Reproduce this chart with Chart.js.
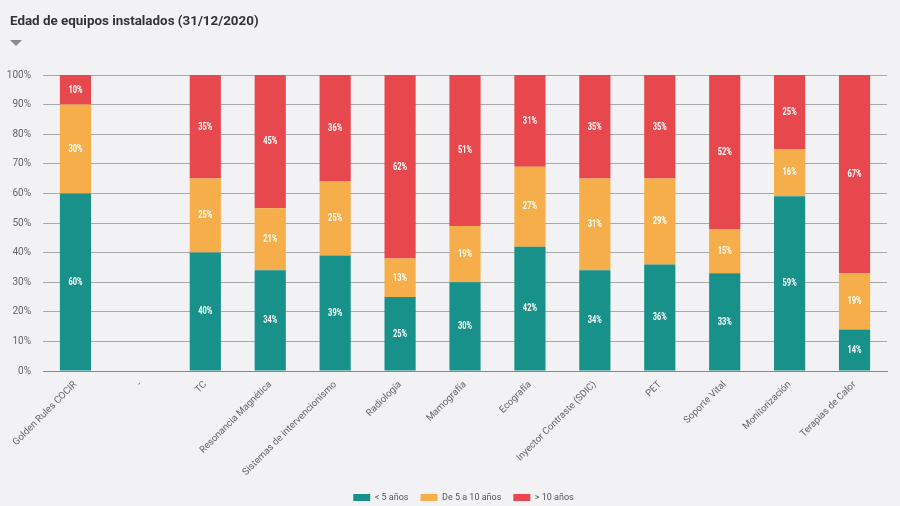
<!DOCTYPE html>
<html>
<head>
<meta charset="utf-8">
<script src="https://cdn.jsdelivr.net/npm/chart.js@4/dist/chart.umd.min.js"></script>
<style>
  html, body { margin: 0; padding: 0; background: #f2f2f4; }
  #wrap { position: relative; width: 900px; height: 506px; }
  #title { position: absolute; left: 10px; top: 13px; font: bold 13.4px Roboto, "Noto Sans", sans-serif; color: #333; }
  #arrow { position: absolute; left: 10px; top: 40px; width: 0; height: 0;
           border-left: 6px solid transparent; border-right: 6px solid transparent; border-top: 6px solid #8a8a8a; }
  canvas { position: absolute; left: 0; top: 0; }
</style>
</head>
<body>
<div id="wrap">
  <canvas id="ageChart" width="900" height="506"></canvas>
  <div id="title">Edad de equipos instalados (31/12/2020)</div>
  <div id="arrow"></div>
</div>
<script>
const categories = ['Golden Rules COCIR', '-', 'TC', 'Resonancia Magnética', 'Sistemas de intervencionismo',
  'Radiología', 'Mamografía', 'Ecografía', 'Inyector Contraste (SDIC)', 'PET', 'Soporte Vital',
  'Monitorización', 'Terapias de Calor'];
const menos5 = [60, null, 40, 34, 39, 25, 30, 42, 34, 36, 33, 59, 14];
const de5a10 = [30, null, 25, 21, 25, 13, 19, 27, 31, 29, 15, 16, 19];
const mas10 = [10, null, 35, 45, 36, 62, 51, 31, 35, 35, 52, 25, 67];
const yTicks = [0, 10, 20, 30, 40, 50, 60, 70, 80, 90, 100];

const fam = "Roboto, 'Noto Sans', sans-serif";

// etiquetas blancas dentro de cada tramo (estrechadas para imitar Roboto Condensed)
const segmentLabels = {
  id: 'segmentLabels',
  afterDatasetsDraw(chart) {
    const ctx = chart.ctx;
    chart.data.datasets.forEach((ds, i) => {
      const meta = chart.getDatasetMeta(i);
      meta.data.forEach((bar, j) => {
        const v = ds.data[j];
        if (v == null || v === 0) return;
        ctx.save();
        ctx.translate(bar.x, (bar.y + bar.base) / 2);
        ctx.scale(0.68, 1);
        ctx.fillStyle = '#ffffff';
        ctx.font = 'bold 11px ' + fam;
        ctx.textAlign = 'center';
        ctx.textBaseline = 'middle';
        ctx.fillText(v + '%', 0, 0);
        ctx.restore();
      });
    });
  }
};

// la leyenda del original está algo desplazada a la derecha
const legendShift = {
  id: 'legendShift',
  afterLayout(chart) {
    chart.legend.left += 20;
    chart.legend.right += 20;
  }
};

new Chart(document.getElementById('ageChart').getContext('2d'), {
  type: 'bar',
  data: {
    labels: categories,
    datasets: [
      { label: '< 5 años', data: menos5, backgroundColor: '#17918a' },
      { label: 'De 5 a 10 años', data: de5a10, backgroundColor: '#f5ae49' },
      { label: '> 10 años', data: mas10, backgroundColor: '#e7484d' }
    ]
  },
  options: {
    responsive: false,
    animation: false,
    categoryPercentage: 1,
    barPercentage: 0.48,
    layout: { padding: { top: 75, left: 0, right: 13, bottom: -6 } },
    plugins: {
      legend: {
        position: 'bottom',
        labels: { boxWidth: 17, boxHeight: 7, color: '#555', padding: 12, font: { size: 9, family: fam } }
      },
      tooltip: { enabled: false }
    },
    scales: {
      x: {
        stacked: true,
        grid: { display: false },
        border: { color: '#888' },
        ticks: { color: '#666', minRotation: 45, maxRotation: 45, padding: 0, font: { size: 9.6, family: fam } },
        afterFit: (axis) => { axis.height = 110; }
      },
      y: {
        stacked: true,
        min: 0, max: 100,
        afterBuildTicks: (axis) => { axis.ticks = yTicks.map(v => ({ value: v })); },
        afterFit: (axis) => { axis.width = 43; },
        grid: { color: '#a8a8a8', drawTicks: false },
        border: { display: false },
        ticks: { color: '#666', padding: 12, font: { size: 10, family: fam }, callback: v => v + '%' }
      }
    }
  },
  plugins: [segmentLabels, legendShift]
});
</script>
</body>
</html>
